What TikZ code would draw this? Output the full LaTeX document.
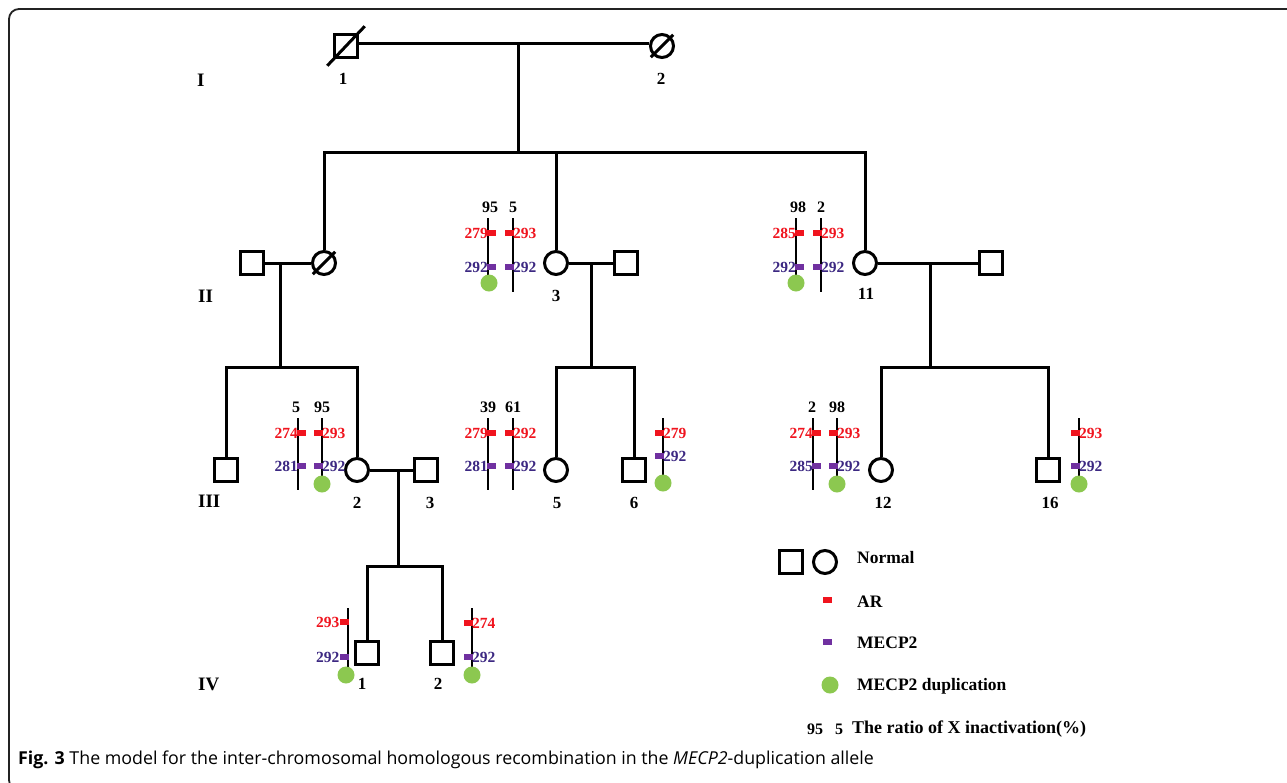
\documentclass[tikz,border=0pt]{standalone}
\usepackage{fontspec}
\setmainfont{Liberation Serif}
\newfontfamily\capfont{Open Sans}
\usetikzlibrary{calc}
\definecolor{arred}{RGB}{240,20,30}
\definecolor{mpurple}{RGB}{112,48,160}
\definecolor{mtext}{RGB}{60,40,130}
\definecolor{dupgreen}{RGB}{140,200,80}
\definecolor{frame}{RGB}{35,35,35}
\newcommand\chrL[7]{%
  \draw[chr] (#2,#3) -- (#2,#4);
  \node[armark, anchor=west] (#1ar) at (#2-1,#3+15) {};
  \node[arlbl, anchor=east] (#1arl) at (#2,#3+15) {#5};
  \node[mpmark, anchor=west] (#1mp) at (#2-1,#3+#7) {};
  \node[mplbl, anchor=east] (#1mpl) at (#2,#3+#7) {#6};}
\newcommand\chrR[7]{%
  \draw[chr] (#2,#3) -- (#2,#4);
  \node[armark, anchor=east] (#1ar) at (#2+1,#3+15) {};
  \node[arlbl, anchor=west] (#1arl) at (#2,#3+15) {#5};
  \node[mpmark, anchor=east] (#1mp) at (#2+1,#3+#7) {};
  \node[mplbl, anchor=west] (#1mpl) at (#2,#3+#7) {#6};}
\begin{document}
\begin{tikzpicture}[x=1pt,y=-1pt,
  ped/.style={line width=3pt},
  male/.style={draw, line width=3pt, minimum size=22.5pt, inner sep=0pt},
  female/.style={draw, circle, line width=3pt, minimum size=23pt, inner sep=0pt},
  idlbl/.style={font=\bfseries\fontsize{17}{17}\selectfont, inner sep=0pt},
  genlbl/.style={font=\bfseries\fontsize{19}{19}\selectfont, inner sep=0pt, anchor=west},
  chr/.style={line width=2.6pt},
  armark/.style={fill=arred, minimum width=9pt, minimum height=6pt, inner sep=0pt},
  mpmark/.style={fill=mpurple, minimum width=9pt, minimum height=6pt, inner sep=0pt},
  arlbl/.style={text=arred, font=\bfseries\fontsize{15.5}{15.5}\selectfont, inner sep=0pt},
  mplbl/.style={text=mtext, font=\bfseries\fontsize{15.5}{15.5}\selectfont, inner sep=0pt},
  dup/.style={circle, fill=dupgreen, minimum size=17pt, inner sep=0pt},
  ratio/.style={font=\bfseries\fontsize{16}{16}\selectfont, inner sep=0pt},
  leg/.style={font=\bfseries\fontsize{17.5}{17.5}\selectfont, anchor=west, inner sep=0pt}
]
\useasboundingbox (0,0) rectangle (1287,782);
\clip (0,0) rectangle (1287,782);
\fill[white] (0,0) rectangle (1287,782);
\draw[frame, line width=1.8pt, rounded corners=10pt] (1300,9) -- (9,9) -- (9,790) -- (1300,790);

% generation labels
\node[genlbl] (gI) at (197,80) {I};
\node[genlbl] (gII) at (198,296) {II};
\node[genlbl] (gIII) at (198,501) {III};
\node[genlbl] (gIV) at (198,684) {IV};

% generation I
\node[male] (I1) at (346,46) {};
\node[female] (I2) at (662,46) {};
\draw[ped] ($(I1.south west)+(-6,7)$) -- ($(I1.north east)+(6,-7)$);
\draw[ped] ($(I2.south west)+(-2,2)$) -- ($(I2.north east)+(2,-2)$);
\node[idlbl] (lI1) at (343,79) {1};
\node[idlbl] (lI2) at (661,79) {2};
\draw[ped] (I1.east |- 0,43) -- (I2.west |- 0,43);
\coordinate (m1) at (518,43);
\coordinate (s2) at (518,152);

% generation II
\node[male] (II1) at (252,263) {};
\node[female] (II2) at (324,263) {};
\draw[ped] ($(II2.south west)+(-2,2)$) -- ($(II2.north east)+(2,-2)$);
\node[female] (II3) at (556,263) {};
\node[male] (II4) at (626,263) {};
\node[female] (II11) at (865,263) {};
\node[male] (II12) at (991,263) {};
\node[idlbl] (lII3) at (556,296) {3};
\node[idlbl] (lII11) at (866,294) {11};

\draw[ped] (m1) -- (s2);
\draw[ped] (II2.north) |- (s2) -| (II11.north);
\draw[ped] (II3.north) -- (II3.north |- s2);

\draw[ped] (II1) -- (II2);
\draw[ped] (II3) -- (II4);
\draw[ped] (II11) -- (II12);
\coordinate (m2) at (280,263);
\coordinate (m3) at (591,263);
\coordinate (m4) at (930,263);
\coordinate (s3a) at (280,367);
\coordinate (s3b) at (591,367);
\coordinate (s3c) at (930,367);

% generation III
\node[male] (III1) at (226,470) {};
\node[female] (III2) at (357,470) {};
\node[male] (III3) at (426,470) {};
\node[female] (III5) at (556,470) {};
\node[male] (III6) at (634,470) {};
\node[female] (III12) at (881,470) {};
\node[male] (III16) at (1048,470) {};
\node[idlbl] (lIII2) at (357,503) {2};
\node[idlbl] (lIII3) at (430,503) {3};
\node[idlbl] (lIII5) at (557,503) {5};
\node[idlbl] (lIII6) at (634,503) {6};
\node[idlbl] (lIII12) at (883,503) {12};
\node[idlbl] (lIII16) at (1050,503) {16};

\draw[ped] (m2) -- (s3a);
\draw[ped] (III1.north) |- (s3a) -| (III2.north);
\draw[ped] (m3) -- (s3b);
\draw[ped] (III5.north) |- (s3b) -| (III6.north);
\draw[ped] (m4) -- (s3c);
\draw[ped] (III12.north) |- (s3c) -| (III16.north);

\draw[ped] (III2) -- (III3);
\coordinate (m5) at (398,470);
\coordinate (s4) at (398,566);

% generation IV
\node[male] (IV1) at (367,653) {};
\node[male] (IV2) at (442,653) {};
\node[idlbl] (lIV1) at (362,684) {1};
\node[idlbl] (lIV2) at (438,684) {2};
\draw[ped] (m5) -- (s4);
\draw[ped] (IV1.north) |- (s4) -| (IV2.north);

% chromosomes II-3
\node[ratio] (r3a) at (490,207) {95};
\node[ratio] (r3b) at (513,207) {5};
\chrL{c3a}{488}{218}{283}{279}{292}{49}
\chrR{c3b}{513}{218}{292}{293}{292}{49}
\node[dup] (d3) at (489,283) {};

% chromosomes II-11
\node[ratio] (r11a) at (798,207) {98};
\node[ratio] (r11b) at (821,207) {2};
\chrL{c11a}{796}{218}{283}{285}{292}{49}
\chrR{c11b}{821}{218}{292}{293}{292}{49}
\node[dup] (d11) at (796,283) {};

% chromosomes III-2
\node[ratio] (r32a) at (296,407) {5};
\node[ratio] (r32b) at (322,407) {95};
\chrL{c32a}{298}{418}{490}{274}{281}{48}
\chrR{c32b}{322}{418}{484}{293}{292}{48}
\node[dup] (d32) at (322,484) {};

% chromosomes III-5
\node[ratio] (r35a) at (488,407) {39};
\node[ratio] (r35b) at (513,407) {61};
\chrL{c35a}{488}{418}{490}{279}{281}{48}
\chrR{c35b}{513}{418}{490}{292}{292}{48}

% chromosome III-6
\chrR{c36}{663}{418}{483}{279}{292}{38}
\node[dup] (d36) at (663,483) {};

% chromosomes III-12
\node[ratio] (r312a) at (812,407) {2};
\node[ratio] (r312b) at (837,407) {98};
\chrL{c312a}{813}{418}{490}{274}{285}{48}
\chrR{c312b}{837}{418}{484}{293}{292}{48}
\node[dup] (d312) at (837,484) {};

% chromosome III-16
\chrR{c316}{1079}{418}{484}{293}{292}{48}
\node[dup] (d316) at (1079,484) {};

% chromosome IV-1
\draw[chr] (348,608) -- (348,675);
\node[armark, anchor=east] (c41ar) at (349,622) {};
\node[arlbl, anchor=east] (c41arl) at (c41ar.west) {293};
\node[mpmark, anchor=east] (c41mp) at (349,657) {};
\node[mplbl, anchor=east] (c41mpl) at (c41mp.west) {292};
\node[dup] (d41) at (346,675) {};

% chromosome IV-2
\chrR{c42}{472}{608}{675}{274}{292}{49}
\node[dup] (d42) at (472,675) {};

% legend
\node[male] (lgsq) at (791,562) {};
\node[female] (lgci) at (825,562) {};
\node[leg] (lgn) at (857,558) {Normal};
\node[armark] (lgar) at (827,600) {};
\node[leg] (lgart) at (857,602) {AR};
\node[mpmark] (lgmp) at (827,642) {};
\node[leg] (lgmpt) at (857,643) {MECP2};
\node[dup] (lgdup) at (830,685) {};
\node[leg] (lgdupt) at (857,686) {MECP2 duplication};
\node[ratio] (lgr1) at (815,729) {95};
\node[ratio] (lgr2) at (839,729) {5};
\node[leg, font=\bfseries\fontsize{18}{18}\selectfont] (lgrt) at (852,729) {The ratio of X inactivation(\%)};

% caption
\node[anchor=west, inner sep=0pt, font=\capfont\fontsize{17.8}{17.8}\selectfont] (cap) at (18,760)
  {\textbf{Fig. 3} The model for the inter-chromosomal homologous recombination in the \textit{MECP2}-duplication allele};
\end{tikzpicture}
\end{document}
